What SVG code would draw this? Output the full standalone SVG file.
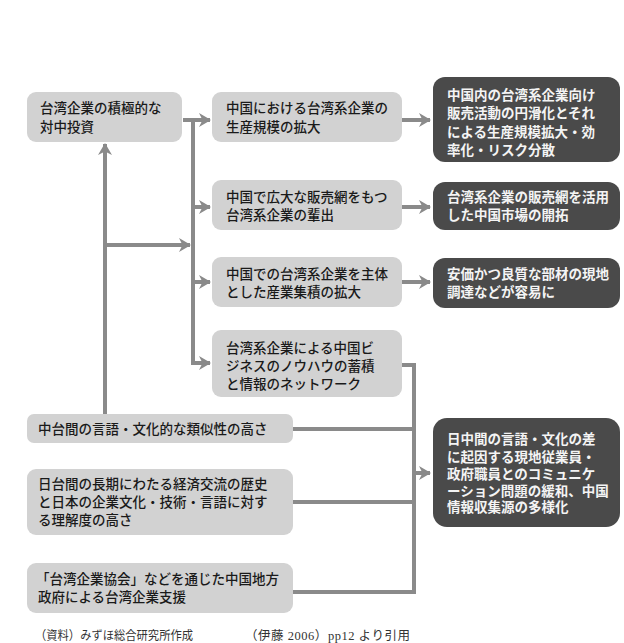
<svg xmlns="http://www.w3.org/2000/svg" width="624" height="643" viewBox="0 0 624 643">
<style>
  .lt { fill: #d2d2d2; }
  .dk { fill: #4a4a4a; }
  text { font-family: "Noto Sans CJK JP", "Noto Sans", sans-serif; font-size: 13.5px; }
  .tl { fill: #1a1a1a; font-weight: 500; }
  .td { fill: #f4f4f4; font-weight: 700; }
  .cn { fill: none; stroke: #8a8a8a; stroke-width: 4; }
  .ft { font-family: "Liberation Serif", "Noto Sans CJK JP", serif; font-size: 12.5px; fill: #333; }
</style>
<defs>
  <marker id="ah" viewBox="-13 -8 14 16" refX="0" refY="0" markerWidth="14" markerHeight="16" markerUnits="userSpaceOnUse" orient="auto">
    <path d="M1,0 L-11,-7 L-7.5,0 L-11,7 Z" fill="#8a8a8a"/>
  </marker>
</defs>

<g id="connectors">
  <path class="cn" d="M183,120 H210" marker-end="url(#ah)"/>
  <path class="cn" d="M193,120 V363 H210" marker-end="url(#ah)"/>
  <path class="cn" d="M193,207 H210" marker-end="url(#ah)"/>
  <path class="cn" d="M193,282 H210" marker-end="url(#ah)"/>
  <path class="cn" d="M105,414 V144" marker-end="url(#ah)"/>
  <path class="cn" d="M105,245 H190" marker-end="url(#ah)"/>
  <path class="cn" d="M402,120 H430" marker-end="url(#ah)"/>
  <path class="cn" d="M402,207 H430" marker-end="url(#ah)"/>
  <path class="cn" d="M402,282 H430" marker-end="url(#ah)"/>
  <path class="cn" d="M402,365 H414 V592 H293"/>
  <path class="cn" d="M293,429 H414"/>
  <path class="cn" d="M293,502 H414"/>
  <path class="cn" d="M414,473 H430" marker-end="url(#ah)"/>
</g>

<g id="nodeA">
  <rect class="lt" x="27" y="92" width="155" height="50" rx="9"/>
  <text class="tl" x="40" y="113">台湾企業の積極的な</text>
  <text class="tl" x="40" y="132">対中投資</text>
</g>

<g id="nodeB1">
  <rect class="lt" x="212" y="92" width="190" height="50" rx="9"/>
  <text class="tl" x="226" y="113">中国における台湾系企業の</text>
  <text class="tl" x="226" y="132">生産規模の拡大</text>
</g>
<g id="nodeB2">
  <rect class="lt" x="212" y="180" width="190" height="50" rx="9"/>
  <text class="tl" x="226" y="202">中国で広大な販売網をもつ</text>
  <text class="tl" x="226" y="220">台湾系企業の輩出</text>
</g>
<g id="nodeB3">
  <rect class="lt" x="212" y="257" width="190" height="50" rx="9"/>
  <text class="tl" x="226" y="279">中国での台湾系企業を主体</text>
  <text class="tl" x="226" y="297">とした産業集積の拡大</text>
</g>
<g id="nodeB4">
  <rect class="lt" x="212" y="330" width="190" height="67" rx="9"/>
  <text class="tl" x="226" y="353">台湾系企業による中国ビ</text>
  <text class="tl" x="226" y="371">ジネスのノウハウの蓄積</text>
  <text class="tl" x="226" y="389">と情報のネットワーク</text>
</g>

<g id="nodeD1">
  <rect class="dk" x="433" y="77" width="187" height="85" rx="12"/>
  <text class="td" x="447" y="100">中国内の台湾系企業向け</text>
  <text class="td" x="447" y="118">販売活動の円滑化とそれ</text>
  <text class="td" x="447" y="137">による生産規模拡大・効</text>
  <text class="td" x="447" y="155">率化・リスク分散</text>
</g>
<g id="nodeD2">
  <rect class="dk" x="433" y="182" width="187" height="48" rx="12"/>
  <text class="td" x="447" y="202">台湾系企業の販売網を活用</text>
  <text class="td" x="447" y="220">した中国市場の開拓</text>
</g>
<g id="nodeD3">
  <rect class="dk" x="433" y="258" width="187" height="50" rx="12"/>
  <text class="td" x="447" y="279">安価かつ良質な部材の現地</text>
  <text class="td" x="447" y="297">調達などが容易に</text>
</g>
<g id="nodeD4">
  <rect class="dk" x="433" y="418" width="187" height="109" rx="14"/>
  <text class="td" x="447" y="444">日中間の言語・文化の差</text>
  <text class="td" x="447" y="462">に起因する現地従業員・</text>
  <text class="td" x="447" y="479">政府職員とのコミュニケ</text>
  <text class="td" x="447" y="496">ーション問題の緩和、中国</text>
  <text class="td" x="447" y="512">情報収集源の多様化</text>
</g>

<g id="nodeC1">
  <rect class="lt" x="27" y="414" width="266" height="29" rx="7"/>
  <text class="tl" x="38" y="434">中台間の言語・文化的な類似性の高さ</text>
</g>
<g id="nodeC2">
  <rect class="lt" x="27" y="469" width="266" height="66" rx="9"/>
  <text class="tl" x="38" y="489">日台間の長期にわたる経済交流の歴史</text>
  <text class="tl" x="38" y="507">と日本の企業文化・技術・言語に対す</text>
  <text class="tl" x="38" y="525">る理解度の高さ</text>
</g>
<g id="nodeC3">
  <rect class="lt" x="27" y="563" width="266" height="50" rx="9"/>
  <text class="tl" x="36" y="584">「台湾企業協会」などを通じた中国地方</text>
  <text class="tl" x="38" y="602">政府による台湾企業支援</text>
</g>

<g id="footer">
  <text class="ft" x="35" y="640" textLength="158" lengthAdjust="spacingAndGlyphs">（資料）みずほ総合研究所作成</text>
  <text class="ft" x="245" y="640" textLength="165" lengthAdjust="spacing">（伊藤 2006）pp12 より引用</text>
</g>
</svg>
